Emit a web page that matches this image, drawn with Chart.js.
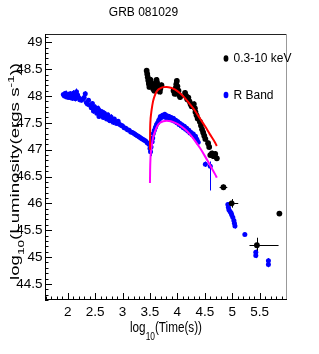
<!DOCTYPE html>
<html><head><meta charset="utf-8">
<script src="https://cdn.jsdelivr.net/npm/chart.js@4.4.1/dist/chart.umd.min.js"></script>
<style>html,body{margin:0;padding:0;background:#fff;overflow:hidden}canvas{display:block}</style>
</head><body>
<canvas id="c" width="319" height="354" style="width:319px;height:354px"></canvas>
<script>
const NARROW = "'Liberation Sans Narrow','Liberation Sans',Arial,sans-serif";
const SANS = "'Liberation Sans',Arial,sans-serif";

const titleText = 'GRB 081029';
const legendLabels = ['0.3-10 keV', 'R Band'];

// R band (optical) luminosity, log10 time (s) vs log10 L
const optT = [1.92,1.94,1.96,1.98,2.00,2.02,2.04,2.06,2.08,2.10,2.12,2.14,2.16,2.18,2.20,2.22,
  2.25,2.28,2.30,2.32,2.34,2.36,2.38,
  2.41,2.43,2.45,2.47,2.49,2.51,2.53,2.55,2.57,2.59,2.61,2.63,2.65,2.67,2.69,2.71,2.73,2.75,2.77,2.79,2.81,2.83,2.85,2.87,2.89,
  2.92,2.95,2.98,
  3.00,3.03,3.06,3.09,3.12,3.15,3.18,3.21,3.24,3.27,3.30,3.33,3.36,3.39,3.42,3.45,3.48,
  3.50,3.51,3.52,3.54,3.55,3.56,3.58,3.60,3.62,3.64,3.66,3.68,3.69,
  3.71,3.73,3.75,3.77,3.79,3.81,3.83,3.85,3.87,3.89,3.91,3.93,3.95,3.97,3.99,4.01,4.03,4.05,4.07,4.09,4.11,4.13,4.15,4.17,4.19,4.21,4.23,4.25,4.27,4.29,4.31,4.33,4.35,
  4.36,4.38,
  4.51,4.60,4.92,4.93,4.94,4.96,4.98,4.99,5.01,5.03,5.04,5.05,5.23,5.43,5.43,5.66,5.66];
const optL = [48.03,48.00,48.05,47.98,48.02,47.97,48.04,48.00,47.96,48.05,48.00,47.95,48.08,48.02,47.97,47.93,
  47.92,47.95,47.97,48.04,47.88,47.85,47.92,
  47.83,47.78,47.86,47.72,47.80,47.75,47.68,47.77,47.62,47.72,47.66,47.70,47.60,47.68,47.63,47.57,47.65,47.59,47.54,47.61,47.56,47.51,47.57,47.52,47.49,
  47.53,47.47,47.45,
  47.44,47.41,47.40,47.37,47.36,47.33,47.32,47.30,47.28,47.26,47.24,47.22,47.20,47.18,47.16,47.13,47.10,
  47.02,46.96,47.05,47.15,47.22,47.30,47.36,47.42,47.47,47.50,47.55,47.58,47.62,
  47.60,47.64,47.62,47.66,47.60,47.63,47.58,47.62,47.57,47.60,47.55,47.58,47.53,47.55,47.50,47.52,47.47,47.49,47.44,47.46,47.41,47.43,47.38,47.40,47.35,47.36,47.31,47.32,47.28,47.29,47.24,47.25,47.20,
  47.18,47.14,
  46.73,46.69,45.98,45.93,45.88,45.85,45.82,45.79,45.74,45.68,45.63,45.58,45.42,45.09,45.03,44.93,44.86];
const optErrLo = [0.05,0.04,0.05,0.04,0.05,0.04,0.05,0.04,0.05,0.06,0.04,0.05,0.06,0.04,0.05,0.04,
  0.04,0.05,0.04,0.05,0.04,0.05,0.04,
  0.04,0.05,0.04,0.05,0.04,0.05,0.04,0.05,0.04,0.05,0.04,0.05,0.04,0.05,0.04,0.05,0.04,0.05,0.04,0.05,0.04,0.05,0.04,0.05,0.04,
  0.04,0.04,0.04,
  0.04,0.04,0.04,0.04,0.04,0.04,0.04,0.04,0.04,0.04,0.04,0.04,0.04,0.04,0.04,0.04,0.04,
  0.05,0.08,0.05,0.04,0.04,0.04,0.04,0.04,0.04,0.04,0.04,0.04,0.04,
  0.04,0.04,0.04,0.04,0.04,0.04,0.04,0.04,0.04,0.04,0.04,0.04,0.04,0.04,0.04,0.04,0.04,0.04,0.04,0.04,0.04,0.04,0.04,0.04,0.04,0.04,0.04,0.04,0.04,0.04,0.04,0.04,0.04,
  0.04,0.04,
  0.05,0.45,0.04,0.04,0.04,0.04,0.04,0.04,0.04,0.04,0.04,0.05,0.03,0.05,0.05,0.05,0.05];
const optErrHi = [0.05,0.04,0.05,0.04,0.05,0.04,0.05,0.04,0.05,0.06,0.04,0.05,0.06,0.04,0.05,0.04,
  0.04,0.05,0.04,0.05,0.04,0.05,0.04,
  0.04,0.05,0.04,0.05,0.04,0.05,0.04,0.05,0.04,0.05,0.04,0.05,0.04,0.05,0.04,0.05,0.04,0.05,0.04,0.05,0.04,0.05,0.04,0.05,0.04,
  0.04,0.04,0.04,
  0.04,0.04,0.04,0.04,0.04,0.04,0.04,0.04,0.04,0.04,0.04,0.04,0.04,0.04,0.04,0.04,0.04,
  0.05,0.05,0.05,0.04,0.04,0.04,0.04,0.04,0.04,0.04,0.04,0.04,0.04,
  0.04,0.04,0.04,0.04,0.04,0.04,0.04,0.04,0.04,0.04,0.04,0.04,0.04,0.04,0.04,0.04,0.04,0.04,0.04,0.04,0.04,0.04,0.04,0.04,0.04,0.04,0.04,0.04,0.04,0.04,0.04,0.04,0.04,
  0.04,0.04,
  0.05,0.09,0.04,0.04,0.04,0.04,0.04,0.04,0.04,0.04,0.04,0.05,0.03,0.05,0.05,0.05,0.05];

// X-ray (0.3-10 keV) luminosity
const xrT = [3.44,3.45,3.46,3.47,3.48,3.49,3.51,3.53,3.54,3.56,3.58,3.60,3.62,3.63,3.64,3.66,3.68,3.69,3.71,
  3.93,3.95,3.97,3.98,3.99,4.00,4.02,4.03,4.05,
  4.14,4.16,4.18,4.20,4.22,4.24,4.26,
  4.30,4.32,4.33,4.35,4.37,
  4.41,4.43,4.45,4.47,4.49,4.51,
  4.56,4.58,
  4.60,4.63,4.66,4.69,4.72,
  4.84,4.99,5.45,5.86];
const xrL = [48.47,48.41,48.35,48.29,48.23,48.17,48.30,48.24,48.18,48.13,48.10,48.22,48.30,48.25,48.18,48.12,48.08,48.14,48.20,
  48.10,48.04,48.15,48.22,48.28,48.18,48.10,48.02,47.98,
  48.06,48.00,47.94,47.97,47.90,47.85,47.81,
  47.85,47.77,47.70,47.64,47.58,
  47.52,47.45,47.38,47.32,47.26,47.20,
  47.12,47.05,
  46.90,46.93,46.88,46.92,46.84,
  46.30,46.00,45.22,45.81];
const xrLErrLo = [0.05,0.05,0.05,0.05,0.05,0.05,0.05,0.05,0.05,0.05,0.05,0.05,0.05,0.05,0.05,0.05,0.05,0.05,0.05,
  0.05,0.05,0.05,0.05,0.05,0.05,0.05,0.05,0.05,
  0.05,0.05,0.05,0.05,0.05,0.05,0.05,
  0.05,0.05,0.05,0.05,0.05,
  0.05,0.05,0.05,0.05,0.05,0.05,
  0.05,0.05,
  0.05,0.05,0.05,0.05,0.05,
  0.05,0.08,0.11,0];
const xrLErrHi = [0.05,0.05,0.05,0.05,0.05,0.05,0.05,0.05,0.05,0.05,0.05,0.05,0.05,0.05,0.05,0.05,0.05,0.05,0.05,
  0.05,0.05,0.05,0.05,0.05,0.05,0.05,0.05,0.05,
  0.05,0.05,0.05,0.05,0.05,0.05,0.05,
  0.05,0.05,0.05,0.05,0.05,
  0.05,0.05,0.05,0.05,0.05,0.05,
  0.05,0.05,
  0.05,0.05,0.05,0.05,0.05,
  0.05,0.08,0.14,0];
const xrTErrLo = [0,0,0,0,0,0,0,0,0,0,0,0,0,0,0,0,0,0,0,
  0,0,0,0,0,0,0,0,0,
  0,0,0,0,0,0,0,
  0,0,0,0,0,
  0,0,0,0,0,0,
  0,0,
  0,0,0,0,0,
  0.07,0.06,0.135,0];
const xrTErrHi = [0,0,0,0,0,0,0,0,0,0,0,0,0,0,0,0,0,0,0,
  0,0,0,0,0,0,0,0,0,
  0,0,0,0,0,0,0,
  0,0,0,0,0,
  0,0,0,0,0,0,
  0,0,
  0,0,0,0,0,
  0.07,0.12,0.395,0];

// Model curves (red: X-ray, magenta: R band)
const redT = [3.50,3.503,3.51,3.52,3.53,3.556,3.596,3.635,3.684,3.743,3.803,3.881,3.96,4.049,4.137,4.226,4.325,4.413,4.502,4.591,4.689,4.719];
const redL = [47.00,47.35,47.55,47.66,47.74,47.90,48.03,48.10,48.14,48.165,48.17,48.155,48.12,48.05,47.96,47.85,47.72,47.58,47.44,47.29,47.13,47.07];
const magT = [3.50,3.503,3.51,3.52,3.537,3.556,3.596,3.635,3.684,3.743,3.803,3.881,3.96,4.049,4.137,4.226,4.325,4.413,4.502,4.591,4.689,4.719];
const magL = [46.38,46.62,46.85,46.98,47.10,47.22,47.35,47.44,47.50,47.53,47.54,47.53,47.50,47.45,47.38,47.29,47.16,47.03,46.88,46.72,46.54,46.48];

const xTitle = [{t:'log',s:14,dy:0},{t:'10',s:10,dy:8},{t:'(Time(s))',s:14,dy:0}];
const yTitle = [{t:'log',s:13,dy:0},{t:'10',s:9.5,dy:5},{t:'(Luminosity(ergs s',s:13,dy:0},{t:'-1',s:9.5,dy:-5},{t:'))',s:13,dy:0}];

function pts(xs, ys){ return xs.map((x,i)=>({x:x, y:ys[i]})); }
function majorLabel(v, lo, hi){
  const r = Math.round(v*2)/2;
  return (Math.abs(v-r) < 1e-6 && r >= lo - 1e-6 && r <= hi + 1e-6) ? String(r) : '';
}

const errPlugin = {
  id:'errbars',
  beforeDatasetsDraw(chart){
    const ctx = chart.ctx, X = chart.scales.x, Y = chart.scales.y, a = chart.chartArea;
    ctx.save();
    ctx.beginPath(); ctx.rect(a.left, a.top, a.right-a.left, a.bottom-a.top); ctx.clip();
    ctx.lineWidth = 1;
    function draw(xs, ys, lLo, lHi, tLo, tHi, color){
      ctx.strokeStyle = color; ctx.beginPath();
      for (let i=0;i<xs.length;i++){
        const px = Math.round(X.getPixelForValue(xs[i]))+0.5;
        const py = Math.round(Y.getPixelForValue(ys[i]))+0.5;
        if (lLo[i] || lHi[i]){
          ctx.moveTo(px, Y.getPixelForValue(ys[i]-lLo[i]));
          ctx.lineTo(px, Y.getPixelForValue(ys[i]+lHi[i]));
        }
        if (tLo && (tLo[i] || tHi[i])){
          ctx.moveTo(X.getPixelForValue(xs[i]-tLo[i]), py);
          ctx.lineTo(X.getPixelForValue(xs[i]+tHi[i]), py);
        }
      }
      ctx.stroke();
    }
    draw(optT, optL, optErrLo, optErrHi, null, null, '#0000ff');
    draw(xrT, xrL, xrLErrLo, xrLErrHi, xrTErrLo, xrTErrHi, '#000000');
    ctx.restore();
  }
};

function richWidth(ctx, parts, fam){ let w=0; for (const p of parts){ ctx.font = p.s+'px '+fam; w += ctx.measureText(p.t).width; } return w; }
function richDraw(ctx, parts, fam){ let x=0; for (const p of parts){ ctx.font = p.s+'px '+fam; ctx.fillText(p.t, x, p.dy); x += ctx.measureText(p.t).width; } }

const framePlugin = {
  id:'frame',
  afterDraw(chart){
    const ctx = chart.ctx, X = chart.scales.x, Y = chart.scales.y, a = chart.chartArea;
    ctx.save();
    ctx.lineWidth = 1;
    ctx.strokeStyle = '#222'; ctx.beginPath(); ctx.moveTo(a.left, a.top+0.5); ctx.lineTo(a.right, a.top+0.5); ctx.stroke();
    ctx.strokeStyle = '#999'; ctx.beginPath(); ctx.moveTo(a.right-0.5, a.top); ctx.lineTo(a.right-0.5, a.bottom); ctx.stroke();
    ctx.strokeStyle = '#000'; ctx.beginPath();
    ctx.moveTo(a.left+0.5, a.top); ctx.lineTo(a.left+0.5, a.bottom);
    ctx.moveTo(a.left, a.bottom-0.5); ctx.lineTo(a.right, a.bottom-0.5);
    for (const t of X.ticks){
      const p = Math.round(X.getPixelForValue(t.value))+0.5;
      const L = t.label ? 7 : 3.5;
      ctx.moveTo(p, a.bottom); ctx.lineTo(p, a.bottom-L);
    }
    for (const t of Y.ticks){
      const p = Math.round(Y.getPixelForValue(t.value))+0.5;
      const L = t.label ? 7 : 3.5;
      ctx.moveTo(a.left, p); ctx.lineTo(a.left+L, p);
    }
    ctx.stroke();
    const cols = ['#000000', '#0000ff'];
    const ly = [58.5, 95];
    ctx.textBaseline = 'middle'; ctx.textAlign = 'left';
    for (let i=0;i<2;i++){
      ctx.fillStyle = cols[i];
      ctx.beginPath(); ctx.ellipse(226, ly[i], 2.4, 3.2, 0, 0, Math.PI*2); ctx.fill();
      ctx.fillStyle = '#000';
      ctx.font = '12px ' + NARROW;
      ctx.fillText(legendLabels[i], 233.5, ly[i]+0.5);
    }
    ctx.fillStyle = '#000'; ctx.textBaseline = 'alphabetic';
    let w = richWidth(ctx, xTitle, NARROW);
    ctx.save(); ctx.translate(130, 332); ctx.scale(72/w, 1); richDraw(ctx, xTitle, NARROW); ctx.restore();
    w = richWidth(ctx, yTitle, SANS);
    ctx.save(); ctx.translate(18.5, 280); ctx.rotate(-Math.PI/2); ctx.scale(217/w, 1); richDraw(ctx, yTitle, SANS); ctx.restore();
    ctx.restore();
  }
};

new Chart(document.getElementById('c'), {
  type:'scatter',
  data:{ datasets:[
    {label:'X-ray model', data:pts(redT, redL), showLine:true, borderColor:'#ff0000', borderWidth:2, pointRadius:0, cubicInterpolationMode:'monotone', fill:false},
    {label:'R model', data:pts(magT, magL), showLine:true, borderColor:'#ff00ff', borderWidth:2, pointRadius:0, cubicInterpolationMode:'monotone', fill:false},
    {label:legendLabels[0], data:pts(xrT, xrL), pointRadius:2.9, pointBackgroundColor:'#000000', pointBorderWidth:0, showLine:false},
    {label:legendLabels[1], data:pts(optT, optL), pointRadius:2.5, pointBackgroundColor:'#0000ff', pointBorderWidth:0, showLine:false}
  ]},
  options:{
    responsive:false, animation:false, devicePixelRatio:1,
    layout:{padding:{top:0, right:32, left:0, bottom:0}},
    plugins:{
      legend:{display:false}, tooltip:{enabled:false},
      title:{display:true, text:titleText, color:'#000', font:{family:NARROW, size:12, weight:'normal'}, padding:{top:5.8, bottom:13.8}}
    },
    scales:{
      x:{type:'linear', min:1.586, max:5.999,
        grid:{display:false, drawTicks:false}, border:{display:false},
        ticks:{stepSize:0.1, includeBounds:false, autoSkip:false, maxRotation:0, minRotation:0, padding:4, color:'#000',
          font:{family:NARROW, size:13.5}, callback:(v)=>majorLabel(v, 2, 5.5)},
        afterFit:(s)=>{ s.height = 54; }
      },
      y:{type:'linear', min:44.2, max:49.155,
        grid:{display:false, drawTicks:false}, border:{display:false},
        ticks:{stepSize:0.1, includeBounds:false, autoSkip:false, padding:2.5, color:'#000',
          font:{family:NARROW, size:13.5}, callback:(v)=>majorLabel(v, 44.5, 49)},
        afterFit:(s)=>{ s.width = 45; }
      }
    }
  },
  plugins:[errPlugin, framePlugin]
});
</script>
</body></html>
